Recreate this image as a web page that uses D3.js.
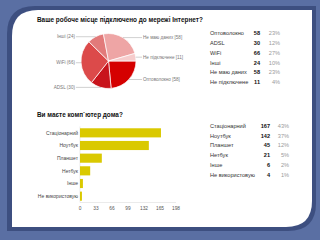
<!DOCTYPE html>
<html>
<head>
<meta charset="utf-8">
<script src="https://cdn.jsdelivr.net/npm/d3@7"></script>
<style>
  html, body { margin: 0; padding: 0; background: #5a6fa3; }
  svg { display: block; font-family: "Liberation Sans", Arial, sans-serif; }
</style>
</head>
<body>
<svg id="chart" width="320" height="240"></svg>
<script>
// pie: internet connection at workplace
const pieLabels = ['Оптоволокно', 'ADSL', 'WiFi', 'Інші', 'Не маю даних', 'Не підключене'];
const pieValues = [58, 30, 66, 24, 58, 11];
const piePercents = ['23%', '12%', '27%', '10%', '23%', '4%'];
const pieColors = ['#d50000', '#c8141c', '#dc4a4a', '#e27a7a', '#eea5a5', '#f6cccc'];

// bars: computer at home
const barLabels = ['Стаціонарний', 'Ноутбук', 'Планшет', 'Нетбук', 'Інше', 'Не використовую'];
const barValues = [167, 142, 45, 21, 6, 4];
const barPercents = ['43%', '37%', '12%', '5%', '2%', '1%'];
const barTicks = [0, 33, 66, 99, 132, 165, 198];

const svg = d3.select('#chart');

// slide frame: dark shadow + white panel with two rounded corners
function frame(x0, y0, x1, y1, r) {
  return `M${x0 + r},${y0} H${x1} V${y1 - r} Q${x1},${y1} ${x1 - r},${y1} H${x0} V${y0 + r} Q${x0},${y0} ${x0 + r},${y0} Z`;
}
svg.append('path').attr('d', frame(7, 6, 316, 231, 28)).attr('fill', '#3d4f80');
svg.append('path').attr('d', frame(12, 10, 312, 227, 26)).attr('fill', '#ffffff');

// ---- pie ----
svg.append('text')
  .attr('x', 37).attr('y', 22)
  .style('font-size', '6.4px').style('font-weight', 'bold').attr('fill', '#111')
  .text('Ваше робоче місце підключено до мережі Інтернет?');

const cx = 108.5, cy = 61, r = 27.5;
const pie = d3.pie().value(d => d).sort(null)
  .startAngle(Math.PI / 2).endAngle(Math.PI / 2 + 2 * Math.PI);
const arc = d3.arc().innerRadius(0).outerRadius(r);
const slices = pie(pieValues);

const pg = svg.append('g').attr('transform', `translate(${cx},${cy})`);
pg.selectAll('path')
  .data(slices)
  .enter().append('path')
  .attr('d', arc)
  .attr('fill', (d, i) => pieColors[i])
  .attr('stroke', '#fff')
  .attr('stroke-width', 0.7);

// leader lines + labels
slices.forEach((d, i) => {
  const a = (d.startAngle + d.endAngle) / 2;
  const ex = cx + r * Math.sin(a), ey = cy - r * Math.cos(a);
  const right = ex > cx;
  const lx = right ? 142 : 76;
  svg.append('line')
    .attr('x1', ex).attr('y1', ey).attr('x2', lx).attr('y2', ey)
    .attr('stroke', '#b0b0b0').attr('stroke-width', 0.6);
  svg.append('text')
    .attr('x', right ? lx + 1 : lx - 1).attr('y', ey)
    .attr('dy', '0.35em')
    .attr('text-anchor', right ? 'start' : 'end')
    .style('font-size', '4.6px').attr('fill', '#777')
    .text(right ? `${pieLabels[i]} [${d.data}]` : `${pieLabels[i]} (${d.data})`);
});

// table for pie
const rowY1 = d3.scalePoint().domain(d3.range(pieLabels.length)).range([33.5, 82]);
const t1 = svg.append('g');
pieLabels.forEach((name, i) => {
  const y = rowY1(i);
  t1.append('text').attr('x', 210).attr('y', y).attr('dy', '0.35em')
    .style('font-size', '5.6px').attr('fill', '#333').text(name);
  t1.append('text').attr('x', 260).attr('y', y).attr('dy', '0.35em').attr('text-anchor', 'end')
    .style('font-size', '5.6px').style('font-weight', 'bold').attr('fill', '#111').text(pieValues[i]);
  t1.append('text').attr('x', 280).attr('y', y).attr('dy', '0.35em').attr('text-anchor', 'end')
    .style('font-size', '5.6px').attr('fill', '#999').text(piePercents[i]);
});

// ---- bars ----
svg.append('text')
  .attr('x', 37).attr('y', 117)
  .style('font-size', '6.4px').style('font-weight', 'bold').attr('fill', '#111')
  .text('Ви маєте комп`ютер дома?');

const x = d3.scaleLinear().domain([0, 198]).range([80, 176]);
const y = d3.scaleBand().domain(barLabels).range([126.5, 202.5]).paddingInner(0.28).paddingOuter(0.14);

svg.append('line').attr('x1', 80).attr('x2', 176).attr('y1', 202.5).attr('y2', 202.5)
  .attr('stroke', '#ddd').attr('stroke-width', 0.6);
svg.append('line').attr('x1', 80).attr('x2', 80).attr('y1', 126.5).attr('y2', 202.5)
  .attr('stroke', '#ddd').attr('stroke-width', 0.6);

svg.selectAll('rect.bar')
  .data(barValues)
  .enter().append('rect')
  .attr('class', 'bar')
  .attr('x', x(0))
  .attr('y', (d, i) => y(barLabels[i]))
  .attr('width', d => x(d) - x(0))
  .attr('height', y.bandwidth())
  .attr('fill', '#dac900');

svg.selectAll('text.cat')
  .data(barLabels)
  .enter().append('text')
  .attr('class', 'cat')
  .attr('x', 78)
  .attr('y', d => y(d) + y.bandwidth() / 2)
  .attr('dy', '0.35em')
  .attr('text-anchor', 'end')
  .style('font-size', '5px').attr('fill', '#444')
  .text(d => d);

svg.selectAll('text.tick')
  .data(barTicks)
  .enter().append('text')
  .attr('class', 'tick')
  .attr('x', d => x(d))
  .attr('y', 208)
  .attr('dy', '0.35em')
  .attr('text-anchor', 'middle')
  .style('font-size', '4.8px').attr('fill', '#555')
  .text(d => d);

// table for bars
const rowY2 = d3.scalePoint().domain(d3.range(barLabels.length)).range([125.7, 175]);
const t2 = svg.append('g');
barLabels.forEach((name, i) => {
  const yy = rowY2(i);
  t2.append('text').attr('x', 210).attr('y', yy).attr('dy', '0.35em')
    .style('font-size', '5.6px').attr('fill', '#333').text(name);
  t2.append('text').attr('x', 270).attr('y', yy).attr('dy', '0.35em').attr('text-anchor', 'end')
    .style('font-size', '5.6px').style('font-weight', 'bold').attr('fill', '#111').text(barValues[i]);
  t2.append('text').attr('x', 289).attr('y', yy).attr('dy', '0.35em').attr('text-anchor', 'end')
    .style('font-size', '5.6px').attr('fill', '#999').text(barPercents[i]);
});
</script>
</body>
</html>
